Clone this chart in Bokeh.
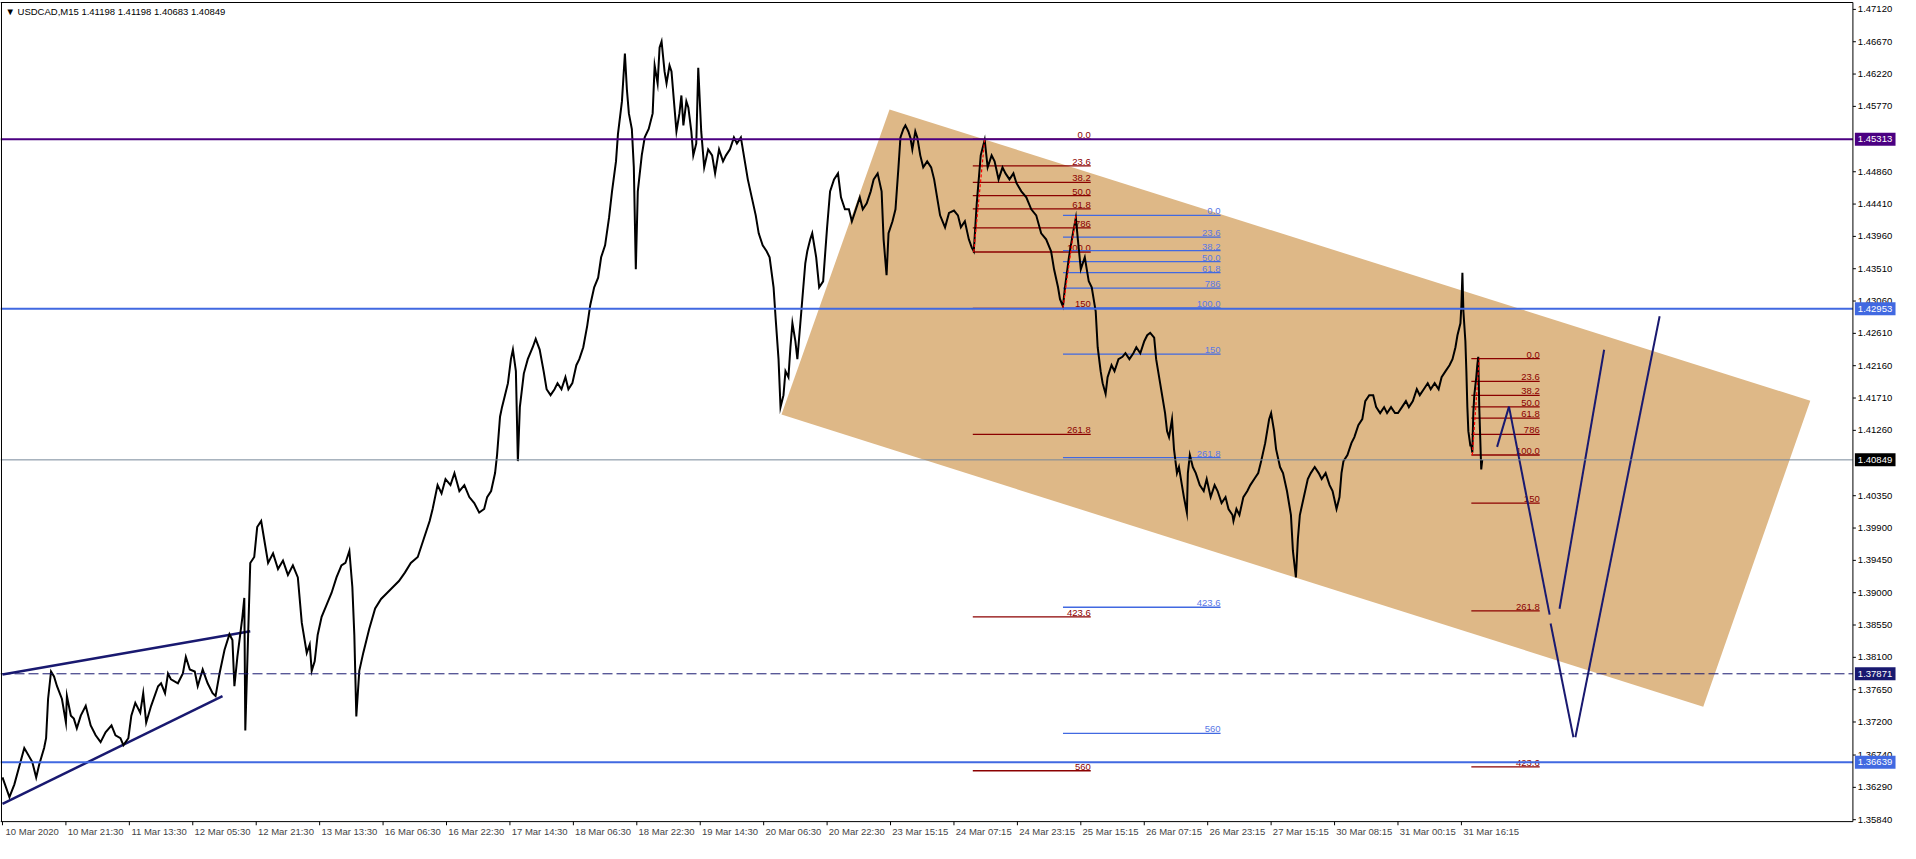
from bokeh.plotting import figure
from bokeh.models import Range1d, LinearAxis, FixedTicker, Label, ColumnDataSource
from bokeh.embed import file_html
from bokeh.resources import INLINE
from bokeh.core.properties import value

FONT = "Liberation Sans"

# ---------------- data ----------------
# price path (bar index from the left edge, price)
bars = [0, 7, 12, 22, 30, 34, 37, 42, 44, 46, 49, 52, 55, 60, 64, 65, 69, 72, 75, 79, 84, 89, 94, 99, 104,
        110, 114, 119, 122, 127, 130, 134, 139, 142, 145, 150, 157, 160, 164, 167, 170, 177, 182, 185, 189,
        194, 197, 202, 207, 212, 215, 219, 224, 229, 232, 234, 237, 242, 244, 245,
        250, 254, 257, 261, 265, 268, 273, 278, 283, 288, 293, 298, 302, 307, 310, 312, 315, 318, 322, 327,
        332, 337, 342, 346, 350, 353, 355, 357, 360, 364, 370, 376, 382, 388, 394, 400, 406, 412, 419, 425,
        431, 434, 439, 443, 447, 452, 456, 461, 466, 471, 476, 481, 486, 489, 493, 497, 499, 502, 504, 507,
        510, 513, 515, 518, 520, 522, 526, 530, 535, 538, 542, 546, 549, 553, 557, 560, 564, 568, 571, 575,
        579, 582, 586, 590, 593, 597, 601, 604, 608, 612, 615, 619, 621, 625, 628, 630, 632, 635, 637, 639,
        641, 645, 648, 652, 656, 658, 661, 663, 665, 668, 670, 673, 675, 678, 680, 683, 685, 687, 690, 692,
        695, 697, 700, 702, 705, 708, 712, 716, 719, 723, 727, 730, 734, 738, 741, 745, 749, 752, 756, 760,
        763, 767, 771, 774, 778, 780, 783, 785, 788, 790, 793, 795, 797, 800, 802, 805, 807, 810, 812, 815,
        817, 821, 824, 828, 832, 835, 839, 843, 846, 850, 854, 857, 861, 865, 868, 872, 876, 879, 883, 887,
        889, 892, 894, 898, 901, 904, 906, 909, 911, 914, 916, 918, 921, 923, 926, 929, 933, 937, 940, 944,
        946, 951, 955, 960, 964, 967, 971, 975, 978, 980, 983, 987, 991, 994, 998, 1001, 1005, 1009, 1012,
        1016, 1020, 1023, 1028, 1033, 1038, 1043, 1048, 1053, 1058, 1061, 1065, 1067, 1070, 1072, 1076,
        1080, 1083, 1085, 1088, 1092, 1096, 1099, 1103, 1105, 1108, 1110, 1113, 1115, 1119, 1122, 1126,
        1130, 1133, 1137, 1141, 1144, 1148, 1152, 1155, 1158, 1162, 1164, 1168, 1170, 1173, 1175, 1177,
        1180, 1182, 1185, 1187, 1190, 1192, 1195, 1196, 1198, 1201, 1204, 1208, 1212, 1215, 1219, 1223,
        1226, 1230, 1234, 1237, 1241, 1242, 1245, 1248, 1252, 1256, 1259, 1263, 1267, 1270, 1274, 1278,
        1280, 1283, 1285, 1289, 1292, 1296, 1300, 1302, 1305, 1307, 1309, 1313, 1317, 1320, 1324, 1328,
        1331, 1335, 1339, 1342, 1346, 1349, 1351, 1353, 1357, 1361, 1364, 1368, 1372, 1375, 1379, 1383,
        1386, 1390, 1394, 1397, 1401, 1405, 1408, 1412, 1416, 1419, 1423, 1427, 1430, 1434, 1438, 1441,
        1445, 1449, 1452, 1456, 1460, 1463, 1466, 1468, 1471, 1472, 1473, 1474, 1476, 1477, 1478, 1479,
        1481, 1482, 1483, 1484, 1485, 1487, 1488, 1489, 1490, 1492, 1493]
closes = [1.36428, 1.36155, 1.36332, 1.36838, 1.36646, 1.36428, 1.36605, 1.36838, 1.36974, 1.37520, 1.37903,
          1.37834, 1.37698, 1.37520, 1.37193, 1.37561, 1.37288, 1.37247, 1.37111, 1.37288, 1.37425, 1.37152,
          1.37015, 1.36919, 1.37056, 1.37152, 1.37015, 1.36974, 1.36878, 1.36974, 1.37288, 1.37466, 1.37329,
          1.37602, 1.37193, 1.37425, 1.37698, 1.37739, 1.37602, 1.37875, 1.37793, 1.37739, 1.37875, 1.38107,
          1.37930, 1.37903, 1.37698, 1.37930, 1.37739, 1.37602, 1.37561, 1.37875, 1.38203, 1.38422, 1.38340,
          1.37698, 1.38107, 1.38654, 1.38927, 1.37083,
          1.39414, 1.39497, 1.39914, 1.39998, 1.39664, 1.39414, 1.39547, 1.39330, 1.39447, 1.39247, 1.39380,
          1.39213, 1.38579, 1.38162, 1.38279, 1.37912, 1.38045, 1.38412, 1.38663, 1.38830, 1.38996, 1.39213,
          1.39380, 1.39414, 1.39581, 1.39080, 1.38412, 1.37278, 1.37912, 1.38162, 1.38496, 1.38780, 1.38913,
          1.38996, 1.39080, 1.39163, 1.39280, 1.39414, 1.39497, 1.39747, 1.39998, 1.40165, 1.40498, 1.40382,
          1.40582, 1.40498, 1.40665, 1.40415, 1.40498, 1.40331, 1.40248, 1.40115, 1.40165, 1.40331, 1.40415,
          1.40665, 1.40916, 1.41450, 1.41583, 1.41750, 1.41917, 1.42251, 1.42384, 1.42084, 1.40832, 1.41583,
          1.42050, 1.42251, 1.42417, 1.42534, 1.42384, 1.42084, 1.41833, 1.41750, 1.41833, 1.41917, 1.41833,
          1.42000, 1.41833, 1.41917, 1.42167, 1.42251, 1.42417, 1.42718, 1.43002, 1.43252, 1.43385, 1.43669,
          1.43836, 1.44220, 1.44587, 1.45004, 1.45388, 1.45839, 1.46506, 1.46005, 1.45672, 1.45455, 1.44921,
          1.43502, 1.44587, 1.45088, 1.45338, 1.45455, 1.45672, 1.46339, 1.46089, 1.46589, 1.46673, 1.46256,
          1.46089, 1.46339, 1.46256, 1.45755, 1.45421, 1.45672, 1.45922, 1.45505, 1.45839, 1.45755, 1.45421,
          1.45088, 1.45254, 1.46306, 1.45421, 1.44921, 1.45171, 1.45088, 1.44837, 1.45171, 1.45004, 1.45088,
          1.45171, 1.45338, 1.45254, 1.45338, 1.45004, 1.44754, 1.44503, 1.44253, 1.44003, 1.43836, 1.43753,
          1.43669, 1.43252, 1.42835, 1.42251, 1.41583, 1.41750, 1.42084, 1.42000, 1.42417, 1.42751, 1.42501,
          1.42251, 1.42751, 1.43085, 1.43586, 1.43753, 1.43919, 1.44003, 1.43669, 1.43252, 1.43335, 1.44086,
          1.44587, 1.44754, 1.44837, 1.44503, 1.44337, 1.44337, 1.44170, 1.44337, 1.44503, 1.44337, 1.44420,
          1.44587, 1.44754, 1.44837, 1.44587, 1.43919, 1.43419, 1.44003, 1.44170, 1.44337, 1.44921, 1.45338,
          1.45455, 1.45505, 1.45421, 1.45338, 1.45171, 1.45421, 1.45338, 1.45088, 1.44921, 1.45004, 1.44921,
          1.44754, 1.44420, 1.44253, 1.44086, 1.44287, 1.44320, 1.44253, 1.44086, 1.44170, 1.43919, 1.43803,
          1.43753, 1.44420, 1.45088, 1.45305, 1.44921, 1.45088, 1.45004, 1.44754, 1.44921, 1.44837, 1.44754,
          1.44837, 1.44704, 1.44587, 1.44503, 1.44337, 1.44253, 1.44003, 1.43919, 1.43753, 1.43502, 1.43252,
          1.43085, 1.42985, 1.43252, 1.43669, 1.44003, 1.44220, 1.43919, 1.43502, 1.43669, 1.43335, 1.43252,
          1.42918, 1.42417, 1.42084, 1.41917, 1.41767, 1.42000, 1.42167, 1.42084, 1.42251, 1.42284, 1.42334,
          1.42251, 1.42334, 1.42417, 1.42334, 1.42501, 1.42584, 1.42618, 1.42551, 1.42251, 1.41917, 1.41750,
          1.41500, 1.41249, 1.41166, 1.41416, 1.40999, 1.40665, 1.40749, 1.40498, 1.40331, 1.40115, 1.40665,
          1.40916, 1.40749, 1.40665, 1.40498, 1.40415, 1.40582, 1.40331, 1.40498, 1.40415, 1.40248, 1.40331,
          1.40165, 1.40081, 1.39998, 1.40165, 1.40081, 1.40331, 1.40415, 1.40498, 1.40582, 1.40665, 1.40832,
          1.41082, 1.41416, 1.41500, 1.41249, 1.40999, 1.40749, 1.40665, 1.40415, 1.40081, 1.39581, 1.39213,
          1.39747, 1.40081, 1.40331, 1.40582, 1.40665, 1.40749, 1.40665, 1.40582, 1.40665, 1.40498, 1.40415,
          1.40165, 1.40331, 1.40665, 1.40832, 1.40916, 1.41082, 1.41166, 1.41333, 1.41416, 1.41667, 1.41750,
          1.41750, 1.41583, 1.41500, 1.41583, 1.41500, 1.41583, 1.41500, 1.41500, 1.41583, 1.41667, 1.41583,
          1.41667, 1.41833, 1.41750, 1.41833, 1.41917, 1.41833, 1.41917, 1.41833, 1.42000, 1.42084, 1.42167,
          1.42251, 1.42417, 1.42584, 1.42751, 1.43002, 1.43452, 1.42918, 1.42501, 1.42084, 1.41583, 1.41249,
          1.41049, 1.41049, 1.40949, 1.41500, 1.41750, 1.42000, 1.42167, 1.42284, 1.41583, 1.40715, 1.40849]

time_ticks = [0, 64, 128, 192, 256, 320, 384, 448, 512, 576, 640, 704, 768, 832, 896, 960, 1024, 1088,
              1152, 1216, 1280, 1344, 1408, 1472]
time_labels = ["10 Mar 2020", "10 Mar 21:30", "11 Mar 13:30", "12 Mar 05:30", "12 Mar 21:30", "13 Mar 13:30",
               "16 Mar 06:30", "16 Mar 22:30", "17 Mar 14:30", "18 Mar 06:30", "18 Mar 22:30", "19 Mar 14:30",
               "20 Mar 06:30", "20 Mar 22:30", "23 Mar 15:15", "24 Mar 07:15", "24 Mar 23:15", "25 Mar 15:15",
               "26 Mar 07:15", "26 Mar 23:15", "27 Mar 15:15", "30 Mar 08:15", "31 Mar 00:15", "31 Mar 16:15"]
price_ticks = [1.47120, 1.46670, 1.46220, 1.45770, 1.44860, 1.44410, 1.43960, 1.43510, 1.43060, 1.42610,
               1.42160, 1.41710, 1.41260, 1.40350, 1.39900, 1.39450, 1.39000, 1.38550, 1.38100, 1.37650,
               1.37200, 1.36740, 1.36290, 1.35840]

hline_prices = [1.45313, 1.42953, 1.40849, 1.37871, 1.36639]
hline_colors = ["#4B0082", "#4169E1", "#778899", "#191970", "#4169E1"]
hline_widths = [2, 2, 1, 1, 2]
hline_dashes = ["solid", "solid", "solid", "10 4", "solid"]
hline_tag_colors = ["#4B0082", "#4169E1", "#000000", "#191970", "#4169E1"]

channel_bars = [895, 786, 1716, 1824]
channel_prices = [1.45728, 1.41480, 1.37411, 1.41672]

wedge_upper_bars = [0, 250]
wedge_upper_prices = [1.37862, 1.38463]
wedge_lower_bars = [0, 222]
wedge_lower_prices = [1.36059, 1.37561]

fib_ratios = [0.0, 23.6, 38.2, 50.0, 61.8, 78.6, 100.0, 150.0, 261.8, 423.6, 560.0]
fib_texts = ["0.0", "23.6", "38.2", "50.0", "61.8", "786", "100.0", "150", "261.8", "423.6", "560"]
fibA = dict(x0=979, x1=1098, p0=1.45313, p100=1.43743, anchor_bars=[980, 991], color="#8B0000", text_color="#8B0000")
fibB = dict(x0=1070, x1=1229, p0=1.44253, p100=1.42965, anchor_bars=[1070, 1083], color="#4169E1", text_color="#5A78E6")
fibC = dict(x0=1482, x1=1551, p0=1.42259, p100=1.40917, anchor_bars=[1483, 1490], color="#8B0000", text_color="#8B0000")

proj_segments_bars = [[1508, 1520], [1520, 1561], [1571, 1616], [1562, 1585], [1587, 1672]]
proj_segments_prices = [[1.41030, 1.41590], [1.41590, 1.38695], [1.38777, 1.42382], [1.38572, 1.36988],
                        [1.36988, 1.42848]]

# chart frame (price/bar units)
Y_TOP_LINE, Y_BOT_LINE = 1.47216, 1.35813
Y0, Y1 = 1.35759, 1.47230
X0, X_AXIS, X1 = -2, 1867, 1913

# ---------------- figure ----------------
p = figure(frame_width=1898, frame_height=824, x_range=Range1d(X0, X1), y_range=Range1d(Y0, Y1),
           output_backend="svg", toolbar_location=None, x_axis_location=None, y_axis_location=None,
           min_border_left=0, min_border_top=1, min_border_right=0, min_border_bottom=0)
p.grid.visible = False
p.outline_line_color = None
p.background_fill_color = "white"
p.border_fill_color = "white"

# bottom time labels (text starts just right of each tick)
label_pos = [t + 30 for t in time_ticks]
ax_labels = LinearAxis(ticker=FixedTicker(ticks=label_pos), major_tick_out=0, major_tick_in=0,
                       minor_tick_out=0, minor_tick_in=0, axis_line_color=None, major_tick_line_color=None,
                       minor_tick_line_color=None,
                       major_label_overrides={lp: lab for lp, lab in zip(label_pos, time_labels)},
                       major_label_text_font=FONT, major_label_text_font_size="9.5px",
                       major_label_standoff=0)
p.add_layout(ax_labels, "below")

# channel
p.patch(channel_bars, channel_prices, fill_color="#DEB887", line_color=None)

# wedge
p.line(wedge_upper_bars, wedge_upper_prices, line_color="#191970", line_width=2.5)
p.line(wedge_lower_bars, wedge_lower_prices, line_color="#191970", line_width=2.5)

# fibonacci sets
for fs in (fibA, fibB, fibC):
    lv = [fs["p0"] - (fs["p0"] - fs["p100"]) * r / 100.0 for r in fib_ratios]
    keep = [i for i, v in enumerate(lv) if Y_BOT_LINE < v < Y_TOP_LINE]
    src = ColumnDataSource(dict(x0=[fs["x0"]] * len(keep), x1=[fs["x1"]] * len(keep),
                                y=[lv[i] for i in keep], t=[fib_texts[i] for i in keep]))
    p.segment(x0="x0", y0="y", x1="x1", y1="y", source=src, line_color=fs["color"], line_width=1.3)
    p.text(x="x1", y="y", text="t", source=src, text_align="right", text_baseline="bottom",
           text_font=value(FONT), text_font_size="9.5px", text_color=fs["text_color"], y_offset=-1)

# price series
p.line(bars, closes, line_color="black", line_width=2, line_join="miter")

# fib anchor lines (red dashed)
for fs in (fibA, fibB, fibC):
    p.line(fs["anchor_bars"], [fs["p100"], fs["p0"]], line_color="#FF0000", line_width=1.2, line_dash="3 2")

# projection path
p.multi_line(proj_segments_bars, proj_segments_prices, line_color="#191970", line_width=2)

# horizontal levels (end at the price axis)
for pr, c, w, d in zip(hline_prices, hline_colors, hline_widths, hline_dashes):
    p.segment(x0=[X0], y0=[pr], x1=[X_AXIS], y1=[pr], line_color=c, line_width=w, line_dash=d)

# chart border + price axis line
p.segment(x0=[X0, X0, -1, X_AXIS], y0=[Y_TOP_LINE, Y_BOT_LINE, Y_BOT_LINE, Y_BOT_LINE],
          x1=[X_AXIS, X_AXIS, -1, X_AXIS], y1=[Y_TOP_LINE, Y_BOT_LINE, Y_TOP_LINE, Y_TOP_LINE],
          line_color="black", line_width=1)

# time tick marks below the border
p.segment(x0=time_ticks, y0=[Y_BOT_LINE] * len(time_ticks), x1=time_ticks, y1=[Y0] * len(time_ticks),
          line_color="black", line_width=1)

# price axis ticks and labels
p.segment(x0=[X_AXIS] * len(price_ticks), y0=price_ticks, x1=[X_AXIS + 3] * len(price_ticks), y1=price_ticks,
          line_color="black", line_width=1)
p.text(x=[X_AXIS + 5] * len(price_ticks), y=price_ticks, text=["%.5f" % v for v in price_ticks],
       text_align="left", text_baseline="middle", text_font=value(FONT), text_font_size="9.5px",
       text_color="black")

# price tags on the axis
p.rect(x=[X_AXIS + 22.5] * len(hline_prices), y=hline_prices, width=41, height=13, height_units="screen",
       fill_color=hline_tag_colors, line_color=None)
p.text(x=[X_AXIS + 5] * len(hline_prices), y=hline_prices, text=["%.5f" % v for v in hline_prices],
       text_align="left", text_baseline="middle", text_font=value(FONT), text_font_size="9.5px",
       text_color="white")

# header
p.add_layout(Label(x=X0, y=Y1, text="\u25BC USDCAD,M15  1.41198 1.41198 1.40683 1.40849", text_color="black",
                   text_font=FONT, text_font_size="9.5px", text_align="left", text_baseline="top",
                   x_offset=5, y_offset=-4))

open("out.html", "w").write(file_html(p, INLINE))
